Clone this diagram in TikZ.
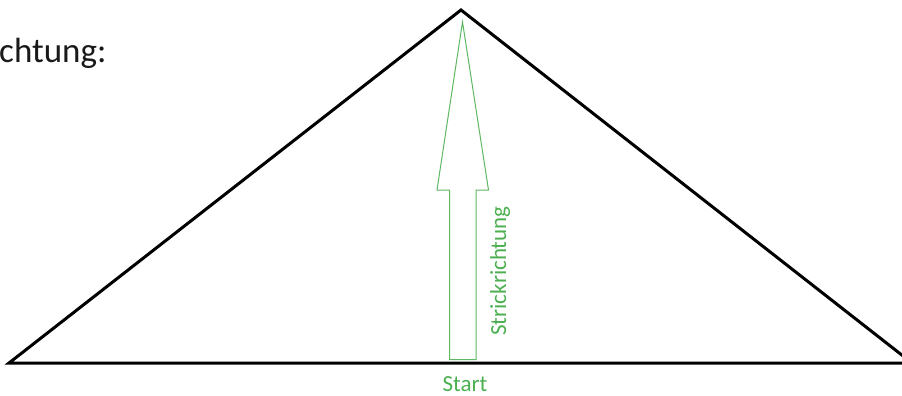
\documentclass[tikz,border=0pt]{standalone}
\usepackage{fontspec}
\setmainfont{Carlito}
\usetikzlibrary{positioning}
\definecolor{strickgreen}{RGB}{76,175,80}

\begin{document}
\begin{tikzpicture}[
x=1pt, y=-1pt,
edge/.style={draw=black, line width=3pt},
outline/.style={draw=strickgreen!90, line width=1pt},
greenlabel/.style={text=strickgreen, inner sep=0pt, font=\fontsize{23}{27}\selectfont},
heading/.style={text=black!90, inner sep=0pt, font=\fontsize{35}{42}\selectfont}
]
\useasboundingbox (0,0) rectangle (902,396);

% triangle, its right corner lies past the edge
\begin{scope}
\clip (0,0) rectangle (902,396);
\coordinate (left) at (9,363);
\coordinate (apex) at (461,10);
\coordinate (right) at (912,363);
\draw[edge] (left) -- (apex) -- (right) -- cycle;
\end{scope}

% knitting direction arrow
\coordinate (tip) at (462.5,22);
\draw[outline] (449.5,359.5) -- (449.5,190) -- (437,190) -- (tip)
  -- (488.5,190) -- (476,190) -- (476,359.5) -- cycle;

\node[greenlabel, rotate=90] (dir) at (500,271) {Strickrichtung};
\node[greenlabel] (start) at (465,384) {Start};
\node[heading, anchor=base west] (title) at (-1,63) {chtung:};
\end{tikzpicture}
\end{document}
